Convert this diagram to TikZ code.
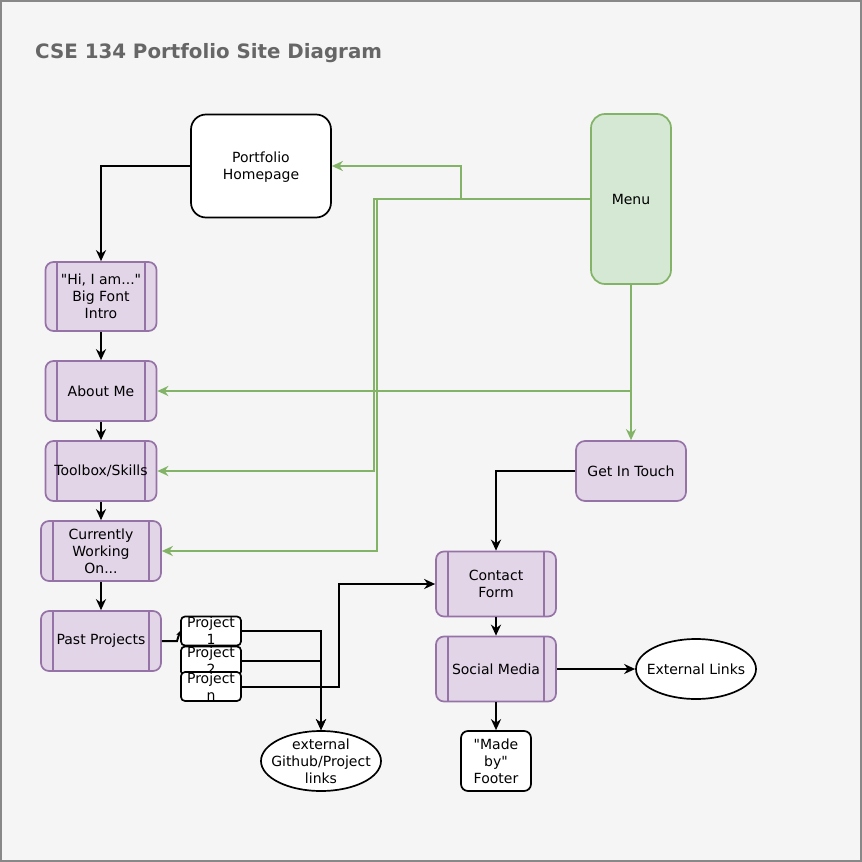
\documentclass[tikz,border=0pt]{standalone}
\usepackage{fontspec}
\setmainfont{DejaVu Sans}[Ligatures=TeXOff]
\usetikzlibrary{arrows.meta,calc,shapes.geometric}
\definecolor{bgc}{HTML}{F5F5F5}
\definecolor{framec}{HTML}{888888}
\definecolor{titlec}{HTML}{666666}
\definecolor{pfill}{HTML}{E1D5E7}
\definecolor{pstroke}{HTML}{9673A6}
\definecolor{gfill}{HTML}{D5E8D4}
\definecolor{gstroke}{HTML}{82B366}
\tikzset{
  base/.style={inner sep=0pt, align=center, font=\fontsize{14}{16.8}\selectfont, line width=1.7pt},
  process/.style={base, draw=pstroke, fill=pfill, rounded corners=8pt,
    path picture={
      \draw[pstroke, line width=2pt]
        ($(path picture bounding box.north west)!0.1!(path picture bounding box.north east)$) --
        ($(path picture bounding box.south west)!0.1!(path picture bounding box.south east)$);
      \draw[pstroke, line width=2pt]
        ($(path picture bounding box.north west)!0.9!(path picture bounding box.north east)$) --
        ($(path picture bounding box.south west)!0.9!(path picture bounding box.south east)$);
    }},
  pbox/.style={base, draw=pstroke, fill=pfill, rounded corners=9pt},
  wbox/.style={base, draw=black, fill=white},
  oval/.style={base, draw=black, fill=white, ellipse},
  arr/.style={line width=2pt, -{Stealth[length=11pt,width=10pt,inset=3.5pt]}},
  garr/.style={arr, draw=gstroke, color=gstroke},
}
\begin{document}
\begin{tikzpicture}[x=1pt,y=-1pt]
\useasboundingbox (0,0) rectangle (862,862);
\fill[bgc] (0,0) rectangle (862,862);
\draw[framec, line width=1.5pt] (1,1) rectangle (861,861);
\node[anchor=west, text=titlec, font=\fontsize{19.8}{24}\selectfont\bfseries, inner sep=0pt] (title) at (35,53.5) {CSE 134 Portfolio Site Diagram};

% nodes
\node[wbox, rounded corners=15pt, minimum width=140pt, minimum height=103pt] (home) at (261,166) {Portfolio\\\smash{Homepage}};
\node[base, draw=gstroke, fill=gfill, rounded corners=14pt, minimum width=80pt, minimum height=170pt] (menu) at (631,199) {Menu};
\node[process, minimum width=111pt, minimum height=69pt] (hi) at (101,296.5) {"Hi, I am..."\\Big Font\\Intro};
\node[process, minimum width=111pt, minimum height=60pt] (about) at (101,391) {About Me};
\node[process, minimum width=111pt, minimum height=60pt] (tool) at (101,471) {Toolbox/Skills};
\node[process, minimum width=120pt, minimum height=60pt] (curr) at (101,551) {Currently\\Working\\On...};
\node[process, minimum width=120pt, minimum height=60pt] (past) at (101,641) {Past Projects};
\node[wbox, rounded corners=4pt, minimum width=60pt, minimum height=29pt] (p1) at (211,631) {Project\\1};
\node[wbox, rounded corners=4pt, minimum width=60pt, minimum height=29pt] (p2) at (211,661) {Project\\2};
\node[wbox, rounded corners=4pt, minimum width=60pt, minimum height=29pt] (pn) at (211,686.5) {Project\\n};
\node[oval, minimum width=120pt, minimum height=60pt] (ghub) at (321,761) {};
\node[base] (ghubt) at (ghub.center) {external\\Github/Project\\links};
\node[pbox, minimum width=110pt, minimum height=60pt] (touch) at (631,471) {Get In Touch};
\node[process, minimum width=120pt, minimum height=65pt] (contact) at (496,584) {Contact\\Form};
\node[process, minimum width=120pt, minimum height=65pt] (social) at (496,669) {Social Media};
\node[oval, minimum width=120pt, minimum height=60pt] (ext) at (696,669) {};
\node[base] (extt) at (ext.center) {External Links};
\node[wbox, rounded corners=7pt, minimum width=70pt, minimum height=60pt] (foot) at (496,761) {"Made\\by"\\Footer};

% black connectors
\draw[arr] (home.west) -- (101,166) -- (hi.north);
\draw[arr] (hi.south) -- (about.north);
\draw[arr] (about.south) -- (tool.north);
\draw[arr] (tool.south) -- (curr.north);
\draw[arr] (curr.south) -- (past.north);
\draw[line width=2pt, -{Stealth[length=5pt,width=5pt,inset=1.5pt]}] (past.east) -- (177,641) -- (p1.west);
\draw[arr] (p1.east) -- (321,631) -- (ghub.north);
\draw[arr] (p2.east) -- (321,661) -- (ghub.north);
\draw[arr] (pn.east) -- (339,686.5) -- (339,584) -- (contact.west);
\draw[arr] (touch.west) -- (496,471) -- (contact.north);
\draw[arr] (contact.south) -- (social.north);
\draw[arr] (social.east) -- (ext.west);
\draw[arr] (social.south) -- (foot.north);

% green connectors
\draw[garr] (menu.west) -- (461,199) -- (461,166) -- (home.east);
\draw[garr] (menu.west) -- (374,199) -- (374,471) -- (tool.east);
\draw[garr] (menu.west) -- (377,199) -- (377,551) -- (curr.east);
\draw[garr] (menu.south) -- (631,391) -- (about.east);
\draw[garr] (menu.south) -- (touch.north);
\end{tikzpicture}
\end{document}
